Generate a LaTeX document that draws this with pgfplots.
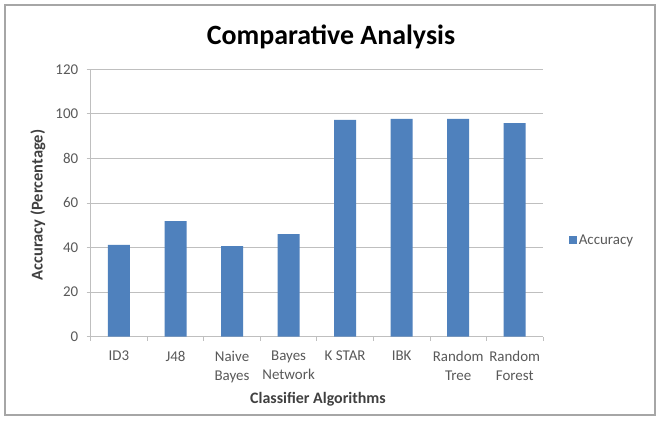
\documentclass[border=0pt]{standalone}
\usepackage{pgfplots}
\pgfplotsset{compat=1.18}
\usepackage{fontspec}
\setmainfont{Carlito}
\definecolor{barblue}{HTML}{4F81BD}
\definecolor{gridgray}{HTML}{BFBFBF}
\definecolor{txtgray}{HTML}{595959}
\definecolor{lblgray}{HTML}{404040}
\definecolor{framegray}{HTML}{A6A6A6}
\begin{document}
\begin{tikzpicture}[x=1bp,y=1bp]
\useasboundingbox (0,0) rectangle (660,420);
\fill[white] (0,0) rectangle (660,420);
\draw[framegray, line width=1.5bp] (5,5) rectangle (655,415);
\begin{axis}[
  at={(90.7bp,83.3bp)}, anchor=south west,
  scale only axis, width=452.3bp, height=267.4bp,
  xmin=-0.5, xmax=7.5, ymin=0, ymax=120,
  ytick={0,20,...,120},
  xtick={0,...,7},
  xticklabels={ID3, J48, Naive\\Bayes, Bayes\\Network, K STAR, IBK, Random\\Tree, Random\\Forest},
  minor xtick={-0.5,0.5,...,7.5},
  axis x line*=bottom, axis y line*=left,
  axis line style={gridgray, line width=0.8bp, -},
  ymajorgrids, major grid style={gridgray, line width=0.8bp},
  major tick length=4bp, minor tick length=4bp,
  tick align=outside,
  major x tick style={draw=none},
  minor x tick style={gridgray, line width=0.8bp},
  major y tick style={gridgray, line width=0.8bp},
  ticklabel style={font=\fontsize{15}{19}\selectfont, text=txtgray},
  xticklabel style={align=center, yshift=-7bp},
  yticklabel style={xshift=-5bp},
  /pgf/number format/assume math mode=true,
  ybar, bar width=22bp,
  legend style={at={(1.05,0.36)}, anchor=west, draw=none, fill=none,
    font=\fontsize{15}{18}\selectfont, text=txtgray,
    /tikz/every even column/.append style={column sep=0bp}},
  legend image code/.code={\fill[barblue] (0bp,-4bp) rectangle (8bp,4bp);},
]
\addplot[fill=barblue, draw=none] coordinates {
  (0,41.2) (1,51.9) (2,40.7) (3,46.0) (4,97.3) (5,97.7) (6,97.7) (7,95.8)};
\addlegendentry{Accuracy}
\end{axis}
\node[font=\fontsize{28}{32}\selectfont\bfseries] at (331,383) {Comparative Analysis};
\node[font=\fontsize{16.5}{20}\selectfont\bfseries, text=lblgray, rotate=90] at (38,215) {Accuracy (Percentage)};
\node[font=\fontsize{16}{20}\selectfont\bfseries, text=lblgray] at (318,21) {Classifier Algorithms};
\end{tikzpicture}
\end{document}
